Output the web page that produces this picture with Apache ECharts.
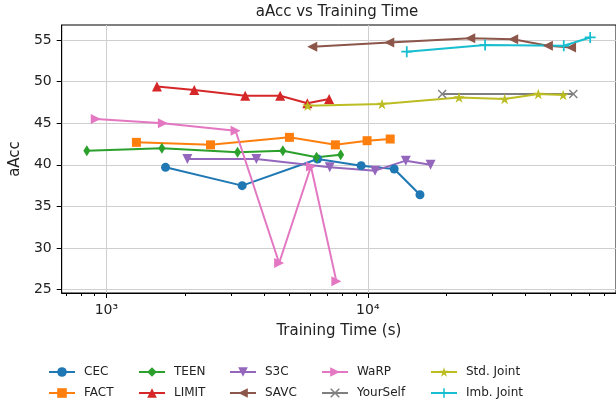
<!DOCTYPE html>
<html>
<head>
<meta charset="utf-8">
<script src="https://cdn.jsdelivr.net/npm/echarts@6/dist/echarts.min.js"></script>
<style>html,body{margin:0;padding:0;background:#fff}#c{width:616px;height:404px}</style>
</head>
<body>
<div id="c"></div>
<script>
// ---- data ----
const seriesNames = ['CEC','FACT','TEEN','LIMIT','S3C','SAVC','WaRP','YourSelf','Std. Joint','Imb. Joint'];
const cecTime = [1684, 3307, 6425, 9432, 12617, 15830];
const cecAcc = [39.7, 37.5, 40.7, 39.9, 39.5, 36.4];
const factTime = [1303, 2502, 5015, 7516, 9936, 12180];
const factAcc = [42.7, 42.4, 43.3, 42.4, 42.9, 43.1];
const teenTime = [842, 1631, 3176, 4732, 6368, 7875];
const teenAcc = [41.7, 42.0, 41.5, 41.7, 40.9, 41.2];
const limitTime = [1561, 2169, 3396, 4622, 5870, 7112];
const limitAcc = [49.4, 49.0, 48.3, 48.3, 47.4, 47.9];
const s3cTime = [2041, 3749, 7152, 10659, 13976, 17380];
const s3cAcc = [40.7, 40.7, 39.7, 39.3, 40.5, 40.0];
const savcTime = [6132, 12078, 24649, 35970, 48840, 59900];
const savcAcc = [54.2, 54.7, 55.2, 55.1, 54.3, 54.1];
const warpTime = [911, 1645, 3120, 4580, 6061, 7584];
const warpAcc = [45.5, 45.0, 44.1, 28.2, 39.8, 26.0];
const yourselfTime = [19250, 61100];
const yourselfAcc = [48.5, 48.5];
const stdTime = [5887, 11330, 22330, 33370, 44890, 55850];
const stdAcc = [47.1, 47.3, 48.1, 47.9, 48.5, 48.4];
const imbTime = [14093, 28090, 56160, 70880];
const imbAcc = [53.6, 54.4, 54.3, 55.3];

const xMajorTicks = [1000, 10000];
const xMinorTicks = [700, 800, 900, 2000, 3000, 4000, 5000, 6000, 7000, 8000, 9000,
                     20000, 30000, 40000, 50000, 60000, 70000, 80000];
const yTicks = [25, 30, 35, 40, 45, 50, 55];

// ---- styles ----
const FONT = 'DejaVu Sans';
const colors = ['#1f77b4','#ff7f0e','#2ca02c','#d62728','#9467bd','#8c564b','#e377c2','#7f7f7f','#bcbd22','#17becf'];
const STAR = 'path://M10,0L12.245,6.91L19.51,6.91L13.63,11.18L15.88,18.09L10,13.82L4.12,18.09L6.37,11.18L0.49,6.91L7.755,6.91Z';
const XMARK = 'path://M0,1.1L1.1,0L5,3.9L8.9,0L10,1.1L6.1,5L10,8.9L8.9,10L5,6.1L1.1,10L0,8.9L3.9,5Z';
const PLUS = 'path://M4.2,0H5.8V4.2H10V5.8H5.8V10H4.2V5.8H0V4.2H4.2Z';
const markers = [
  {symbol:'circle', size:9, rot:0},
  {symbol:'rect', size:9, rot:0},
  {symbol:'diamond', size:[7,11], rot:0},
  {symbol:'triangle', size:10, rot:0},
  {symbol:'triangle', size:10, rot:180},
  {symbol:'triangle', size:10, rot:90},
  {symbol:'triangle', size:10, rot:-90},
  {symbol:XMARK, size:9, rot:0},
  {symbol:STAR, size:11, rot:0},
  {symbol:PLUS, size:11, rot:0}
];
const times = [cecTime, factTime, teenTime, limitTime, s3cTime, savcTime, warpTime, yourselfTime, stdTime, imbTime];
const accs = [cecAcc, factAcc, teenAcc, limitAcc, s3cAcc, savcAcc, warpAcc, yourselfAcc, stdAcc, imbAcc];

const series = seriesNames.map((name, i) => ({
  name: name,
  type: 'line',
  xAxisIndex: 0,
  yAxisIndex: 0,
  data: times[i].map((t, j) => [t, accs[i][j]]),
  symbol: markers[i].symbol,
  symbolSize: markers[i].size,
  symbolRotate: markers[i].rot,
  symbolKeepAspect: true,
  showAllSymbol: true,
  lineStyle: {color: colors[i], width: 2},
  itemStyle: {color: colors[i], opacity: 1},
  emphasis: {disabled: true},
  animation: false
}));

const legendCols = [[0,1],[2,3],[4,5],[6,7],[8,9]];
const legendLeft = [48, 138, 229, 321, 430];
const legends = legendCols.map((col, k) => ({
  orient: 'vertical',
  left: legendLeft[k],
  top: 366,
  padding: 0,
  itemWidth: 26,
  itemHeight: 12,
  itemGap: 9,
  data: col.map(i => seriesNames[i]),
  textStyle: {fontFamily: FONT, fontSize: 12, color: '#222', padding: [0,0,0,4]},
  selectedMode: false
}));

const chart = echarts.init(document.getElementById('c'), null, {renderer: 'canvas'});
chart.setOption({
  animation: false,
  color: colors,
  title: {
    text: 'aAcc vs Training Time',
    left: 337, top: 5, padding: 0, textAlign: 'center',
    textStyle: {fontFamily: FONT, fontSize: 15, fontWeight: 'normal', color: '#222'}
  },
  grid: {left: 58, right: -1, top: 25, bottom: 111, show: true, borderColor: '#000', borderWidth: 1, backgroundColor: 'transparent', containLabel: false},
  legend: legends,
  xAxis: [{
    type: 'log', logBase: 10, min: 675, max: 88970,
    position: 'bottom',
    name: 'Training Time (s)', nameLocation: 'middle', nameGap: 31,
    nameTextStyle: {fontFamily: FONT, fontSize: 15, color: '#222'},
    axisLine: {show: true, lineStyle: {color: '#000', width: 1}},
    axisTick: {show: true, customValues: xMajorTicks, length: 5, lineStyle: {color: '#000', width: 1}},
    axisLabel: {show: true, customValues: xMajorTicks, margin: 10, fontFamily: FONT, fontSize: 14, color: '#222',
      formatter: v => '10' + (Math.round(Math.log10(v)) === 3 ? '\u00b3' : '\u2074')},
    splitLine: {show: true, lineStyle: {color: '#cfcfcf', width: 1}},
    minorTick: {show: false}, minorSplitLine: {show: false}
  }, {
    type: 'log', logBase: 10, min: 675, max: 88970,
    position: 'bottom', offset: 0,
    axisLine: {show: false},
    axisTick: {show: true, customValues: xMinorTicks, length: 3, lineStyle: {color: '#000', width: 1}},
    axisLabel: {show: false},
    splitLine: {show: false}
  }],
  yAxis: [{
    type: 'value', min: 24.6, max: 56.8,
    name: 'aAcc', nameLocation: 'middle', nameGap: 35,
    nameTextStyle: {fontFamily: FONT, fontSize: 15, color: '#222'},
    axisLine: {show: true, lineStyle: {color: '#000', width: 1}},
    axisTick: {show: true, customValues: yTicks, length: 5, lineStyle: {color: '#000', width: 1}},
    axisLabel: {show: true, customValues: yTicks, margin: 10, fontFamily: FONT, fontSize: 14, color: '#222'},
    splitLine: {show: true, lineStyle: {color: '#cfcfcf', width: 1}}
  }],
  series: series
});
</script>
</body>
</html>
